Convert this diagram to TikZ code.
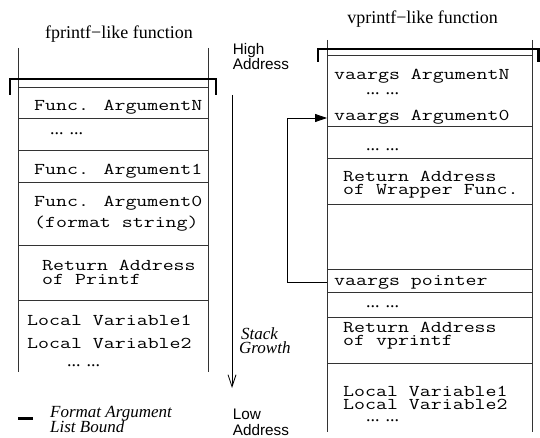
\documentclass[tikz,border=0pt]{standalone}
\usepackage{fontspec}
\setmainfont{Liberation Serif}
\setsansfont{Liberation Sans}
\usetikzlibrary{arrows.meta}
\newcommand\mtext[1]{\scalebox{1.29}[1]{\fontsize{16.5}{16.5}\selectfont\ttfamily #1}}
\newcommand\mtextr[1]{\scalebox{1.36}[0.95]{\fontsize{16.5}{16.5}\selectfont\ttfamily #1}}
\begin{document}
\begin{tikzpicture}[x=1pt,y=-1pt,
  thinline/.style={line width=0.8pt, black!80},
  bracket/.style={line width=2.6pt, black},
  mono/.style={anchor=base west, inner sep=0pt},
  dots/.style={anchor=base west, inner sep=0pt, font=\fontsize{18}{18}\selectfont},
  title/.style={anchor=base, inner sep=0pt, font=\fontsize{18}{18}\selectfont},
  sans/.style={anchor=base west, inner sep=0pt, font=\sffamily\fontsize{15.3}{15.3}\selectfont},
  ital/.style={anchor=base west, inner sep=0pt, font=\itshape\fontsize{17}{17}\selectfont}]
\useasboundingbox (0,0) rectangle (540,438);
% ---------- left stack ----------
\draw[thinline] (18,48) -- (18,372) (208,48) -- (208,372);
\foreach \yy in {87,118,150,182,245,300}
  \draw[thinline] (18,\yy) -- (208,\yy);
\draw[bracket] (10,95) -- (10,79) -- (216,79) -- (216,95);
\node[title] (ltitle) at (119,39) {fprintf−like function};
\node[mono] (l1) at (34,111) {\mtext{Func. ArgumentN}};
\node[dots] (l2) at (50,135) {... ...};
\node[mono] (l3) at (34,175) {\mtext{Func. Argument1}};
\node[mono] (l4) at (34,207) {\mtext{Func. Argument0}};
\node[mono] (l5) at (34,228) {\mtext{(format string)}};
\node[mono] (l6) at (42,270) {\mtext{Return Address}};
\node[mono] (l7) at (42,284) {\mtext{of Printf}};
\node[mono] (l8) at (27,325) {\mtext{Local Variable1}};
\node[mono] (l9) at (27,348) {\mtext{Local Variable2}};
\node[dots] (l10) at (67,366) {... ...};
% ---------- right stack ----------
\draw[thinline] (327,40) -- (327,432) (532,40) -- (532,432);
\foreach \yy in {55,126,158,204,269,292,317,363}
  \draw[thinline] (327,\yy) -- (532,\yy);
\draw[bracket] (318,62) -- (318,49) -- (538.7,49) -- (538.7,62);
\node[title] (rtitle) at (422.6,24) {vprintf−like function};
\node[mono] (r1) at (334,80) {\mtext{vaargs ArgumentN}};
\node[dots] (r2) at (366,95) {... ...};
\node[mono] (r3) at (334,121) {\mtext{vaargs Argument0}};
\node[dots] (r4) at (366,151) {... ...};
\node[mono] (r5) at (343,182) {\mtext{Return Address}};
\node[mono] (r6) at (343,195) {\mtext{of Wrapper Func.}};
\node[mono] (r7) at (334,285) {\mtext{vaargs pointer}};
\node[dots] (r8) at (366,307) {... ...};
\node[mono] (r9) at (343,332) {\mtext{Return Address}};
\node[mono] (r10) at (343,345) {\mtext{of vprintf}};
\node[mono] (r11) at (343,396) {\mtext{Local Variable1}};
\node[mono] (r12) at (343,409) {\mtext{Local Variable2}};
\node[dots] (r13) at (366,421) {... ...};
% ---------- pointer connector ----------
\coordinate (ptr) at (327,282);
\coordinate (arg0) at (327,118);
\draw[thinline, black, -{Triangle[length=12pt,width=8pt]}] (ptr) -- (287,282) |- (arg0);
% ---------- middle ----------
\node[sans] (high) at (232.7,55) {High};
\node[sans] (haddr) at (232.7,70) {Address};
\node[sans] (low) at (232.7,419) {Low};
\node[sans] (laddr) at (232.7,435) {Address};
\coordinate (gtop) at (232,95);
\coordinate (gbot) at (232,388);
\draw[thinline, black, -{Straight Barb[length=12pt,width=8pt]}] (gtop) -- (gbot);
\node[ital] (stack) at (241,339) {Stack};
\node[ital] (growth) at (239,353) {Growth};
% ---------- legend ----------
\draw[line width=3pt] (18,418) -- (33,418);
\node[ital] (fa) at (50,417) {Format Argument};
\node[ital] (lb) at (50,432) {List Bound};
\end{tikzpicture}
\end{document}
